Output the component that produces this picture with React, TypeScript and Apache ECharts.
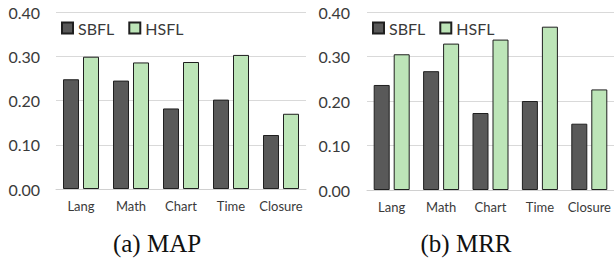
import React, { useEffect, useRef } from "react";
import * as echarts from "echarts";

const categories = ["Lang", "Math", "Chart", "Time", "Closure"];
const mapSBFL = [0.248, 0.245, 0.182, 0.202, 0.122];
const mapHSFL = [0.299, 0.286, 0.287, 0.303, 0.17];
const mrrSBFL = [0.236, 0.267, 0.173, 0.2, 0.149];
const mrrHSFL = [0.305, 0.329, 0.338, 0.367, 0.226];
const yTicks = { min: 0, max: 0.4, interval: 0.1 };
const captions = ["(a) MAP", "(b) MRR"];
const seriesNames = ["SBFL", "HSFL"];

const FONT = "Lato";
const DARK = "#595959";
const GREEN = "#bde5b8";
const BORDER = "#1f1f1f";
const TEXT = "#3a3a3a";

export default function App() {
  const ref = useRef<HTMLDivElement>(null);
  useEffect(() => {
    if (!ref.current) return;
    const chart = echarts.init(ref.current, null, { renderer: "svg" });
    const grids = [
      { left: 56, top: 12, width: 250, height: 177 },
      { left: 367, top: 12, width: 251, height: 178 },
    ];
    const yAxis = grids.map((_, i) => ({
      type: "value",
      gridIndex: i,
      min: yTicks.min,
      max: yTicks.max,
      interval: yTicks.interval,
      axisLine: { show: false },
      axisTick: { show: false },
      splitLine: { lineStyle: { color: "#d9d9d9", width: 1 } },
      axisLabel: {
        formatter: (v: number) => v.toFixed(2),
        fontFamily: FONT,
        fontSize: 16,
        color: TEXT,
        margin: i === 0 ? 16 : 17,
      },
    }));
    const xAxis = grids.map((_, i) => ({
      type: "category",
      gridIndex: i,
      data: categories,
      axisLine: { show: true, lineStyle: { color: "#d0d0d0" } },
      axisTick: { show: false },
      axisLabel: { interval: 0, fontFamily: FONT, fontSize: 13, color: TEXT, margin: 10 },
    }));
    const mk = (name: string, data: number[], idx: number, color: string) => ({
      type: "bar",
      name,
      data,
      xAxisIndex: idx,
      yAxisIndex: idx,
      barWidth: 16,
      barGap: "25%",
      itemStyle: { color, borderColor: BORDER, borderWidth: 1 },
    });
    const legend = [
      { left: 61, top: 20 },
      { left: 372, top: 20 },
    ].map((p) => ({
      ...p,
      padding: 0,
      data: seriesNames,
      icon: "rect",
      itemWidth: 11,
      itemHeight: 11,
      itemGap: 14,
      textStyle: { fontFamily: FONT, fontSize: 16, color: TEXT },
    }));
    chart.setOption({
      animation: false,
      grid: grids,
      xAxis,
      yAxis,
      legend,
      series: [
        mk(seriesNames[0], mapSBFL, 0, DARK),
        mk(seriesNames[1], mapHSFL, 0, GREEN),
        mk(seriesNames[0], mrrSBFL, 1, DARK),
        mk(seriesNames[1], mrrHSFL, 1, GREEN),
      ],
      graphic: [
        {
          type: "text",
          x: 157,
          y: 243,
          style: {
            text: captions[0],
            fontFamily: "Liberation Serif",
            fontSize: 25,
            fill: "#111",
            align: "center",
            verticalAlign: "middle",
          },
        },
        {
          type: "text",
          x: 466,
          y: 243,
          style: {
            text: captions[1],
            fontFamily: "Liberation Serif",
            fontSize: 25,
            fill: "#111",
            align: "center",
            verticalAlign: "middle",
          },
        },
      ],
    });
    return () => chart.dispose();
  }, []);
  return (
    <div
      ref={ref}
      style={{ position: "absolute", left: 0, top: 0, width: 614, height: 261, background: "#fff" }}
    />
  );
}
